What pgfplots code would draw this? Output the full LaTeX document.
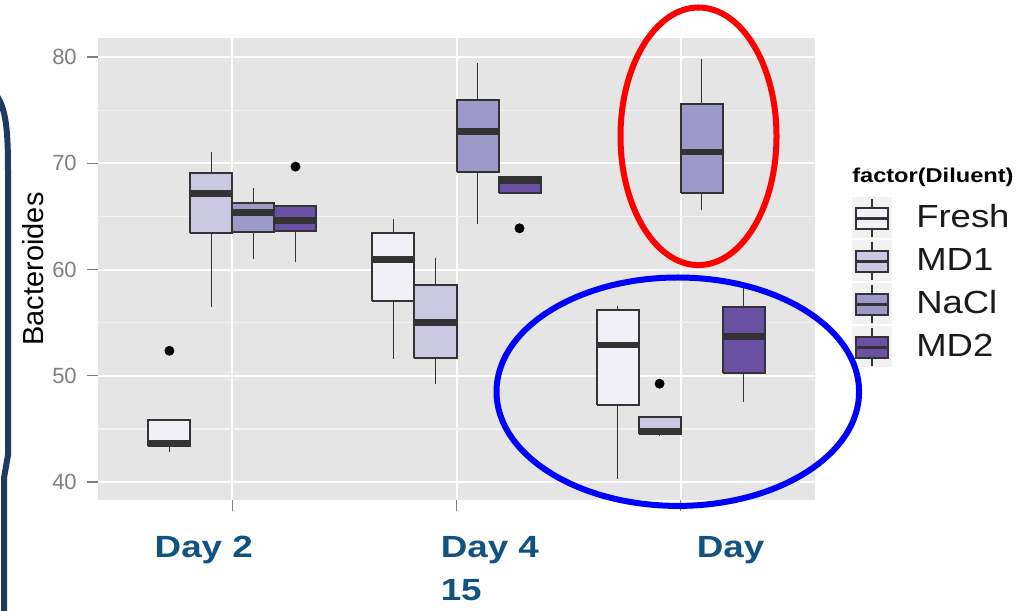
\documentclass[border=0pt]{standalone}
\usepackage{fontspec}
\setmainfont{Liberation Sans}
\usepackage{graphicx}
\usepackage{pgfplots}
\pgfplotsset{compat=1.18}

\definecolor{panel}{HTML}{E5E5E5}
\definecolor{minorgrid}{HTML}{F2F2F2}
\definecolor{edge}{HTML}{333333}
\definecolor{tickgrey}{HTML}{7F7F7F}
\definecolor{cFresh}{HTML}{F2F0F7}
\definecolor{cMDa}{HTML}{CBC9E2}
\definecolor{cNaCl}{HTML}{9E9AC8}
\definecolor{cMDb}{HTML}{6A51A3}
\definecolor{daylabel}{RGB}{16,82,128}
\definecolor{slideblue}{HTML}{1F3864}
\definecolor{keytext}{HTML}{1A1A1A}

% one box: position, fill, lower whisker, lower quartile, median, upper quartile, upper whisker
\newcommand{\bx}[7]{%
  \pgfmathsetmacro\xa{#1-0.09375}%
  \pgfmathsetmacro\xb{#1+0.09375}%
  \addplot[edge, line width=1.3pt] coordinates {(#1,#3) (#1,#4)};
  \addplot[edge, line width=1.3pt] coordinates {(#1,#6) (#1,#7)};
  \addplot[draw=edge, fill=#2, line width=1.5pt, line join=miter]
    coordinates {(\xa,#4) (\xb,#4) (\xb,#6) (\xa,#6) (\xa,#4)};
  \addplot[edge, line width=5pt] coordinates {(\xa,#5) (\xb,#5)};
}
\newcommand{\dayl}[1]{\scalebox{1.2}[1]{#1}}

\begin{document}
\begin{tikzpicture}
\path[use as bounding box] (0,0) rectangle (767.25pt,457.5pt);
\begin{axis}[
  at={(73.5pt,82.5pt)}, anchor=south west,
  scale only axis, width=537.75pt, height=346.5pt,
  xmin=0.4, xmax=3.6, ymin=38.3, ymax=81.8,
  axis lines=left, axis line style={draw=none},
  axis background/.style={fill=panel},
  xtick={1,2,3},
  xticklabels={
    {\hspace*{-58.5pt}\dayl{Day 2}},
    {\hspace*{-12pt}\begin{tabular}[t]{@{}l@{}}\dayl{Day 4}\\\dayl{15}\end{tabular}},
    {\hspace*{12pt}\dayl{Day}}},
  ytick={40,50,60,70,80},
  minor ytick={45,55,65,75},
  xmajorgrids, ymajorgrids, yminorgrids,
  major grid style={white, line width=1.5pt},
  minor grid style={minorgrid, line width=1pt},
  tick align=outside,
  major tick length=8.25pt, minor tick length=0pt,
  tick style={tickgrey, line width=1.1pt},
  /pgf/number format/assume math mode=true,
  yticklabel style={font=\fontsize{16.5}{19}\selectfont, text=tickgrey,
    inner sep=0pt, xshift=-7.5pt},
  xticklabel style={font=\fontsize{23}{32.25}\selectfont\bfseries,
    text=daylabel, anchor=base west, inner sep=0pt, yshift=-34.5pt},
  ylabel={Bacteroides},
  ylabel style={at={(axis description cs:-0.0907,0.5)}, anchor=center,
    font=\fontsize{21.75}{26}\selectfont},
  clip=false,
]
% Day 2
\bx{0.71875}{cFresh}{42.8}{43.35}{43.6}{45.8}{45.8}
\bx{0.90625}{cMDa}{56.47}{63.44}{67.16}{69.07}{71.1}
\bx{1.09375}{cNaCl}{61.0}{63.55}{65.35}{66.31}{67.66}
\bx{1.28125}{cMDb}{60.69}{63.6}{64.63}{65.94}{65.94}
% Day 4
\bx{1.71875}{cFresh}{51.56}{57.03}{60.97}{63.44}{64.75}
\bx{1.90625}{cMDa}{49.19}{51.63}{55.0}{58.53}{61.13}
\bx{2.09375}{cNaCl}{64.31}{69.22}{72.97}{76.0}{79.47}
\bx{2.28125}{cMDb}{67.22}{67.22}{68.38}{68.75}{68.75}
% Day 15
\bx{2.71875}{cFresh}{40.25}{47.25}{52.88}{56.16}{56.56}
\bx{2.90625}{cMDa}{44.28}{44.47}{44.79}{46.16}{46.16}
\bx{3.09375}{cNaCl}{65.56}{67.25}{71.07}{75.63}{79.84}
\bx{3.28125}{cMDb}{47.56}{50.28}{53.69}{56.5}{58.3}
% outliers
\addplot[only marks, mark=*, mark size=3.5pt, mark options={draw=black, fill=black}]
  coordinates {(0.71875,52.35) (1.28125,69.69) (2.28125,63.88) (2.90625,49.25)};
\end{axis}

% annotations, in pixel units measured from the top-left corner
\begin{scope}[x=0.75pt, y=-0.75pt, yshift=457.5pt]
% legend
\node[anchor=base west, inner sep=0pt, font=\fontsize{15}{18}\selectfont\bfseries]
  at (852,183) {\scalebox{1.18}[1]{factor(Diluent)}};
\foreach \c/\lab [count=\i from 0] in {cFresh/Fresh, cMDa/MD1, cNaCl/NaCl, cMDb/MD2} {
  \pgfmathsetmacro\t{197.5+43*\i}
  \fill[minorgrid] (852,\t) rectangle (892,\t+41);
  \draw[edge, line width=1.3pt] (872,\t+1.5) -- (872,\t+39.5);
  \draw[edge, fill=\c, line width=1.5pt] (856,\t+10.5) rectangle (888,\t+31.5);
  \draw[edge, line width=1.6pt] (856,\t+21) -- (888,\t+21);
  \node[anchor=base west, inner sep=0pt, text=keytext,
    font=\fontsize{24}{28}\selectfont] at (916,\t+30.5) {\scalebox{1.14}[1]{\lab}};
}
% highlight ellipses
\draw[red, line width=4.5pt] (698.5,136.3) ellipse [x radius=78, y radius=128.8];
\draw[blue, line width=4.5pt] (677.8,391.7) ellipse [x radius=181.3, y radius=114.2];
% slide frame edge
\draw[slideblue, line width=4.5pt] (-3,96) .. controls (6,110) and (8,130) .. (8,170)
  -- (8,455) -- (4,478) -- (4,615);
\end{scope}
\end{tikzpicture}
\end{document}
